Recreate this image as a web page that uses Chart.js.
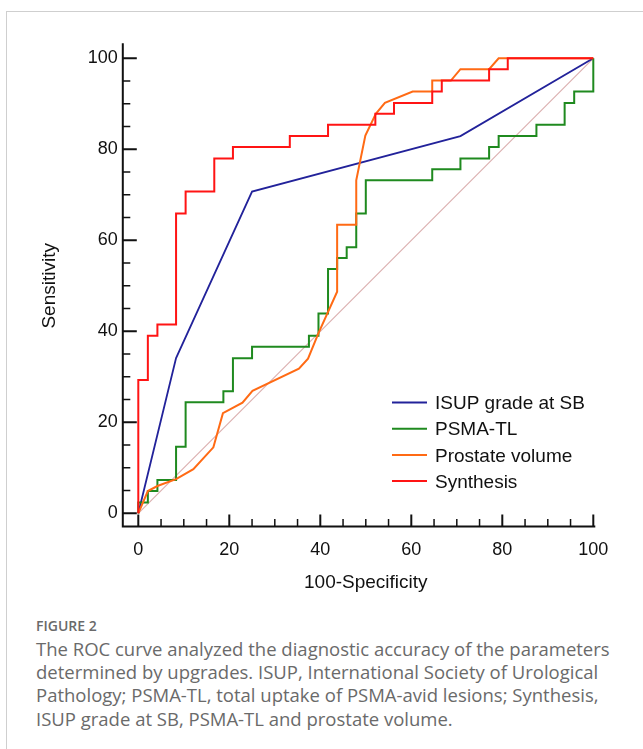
<!DOCTYPE html>
<html>
<head>
<meta charset="utf-8">
<script src="https://cdn.jsdelivr.net/npm/chart.js@4/dist/chart.umd.min.js"></script>
<style>
  html, body { margin: 0; padding: 0; background: #fff; }
  body { width: 643px; height: 749px; position: relative; overflow: hidden; }
  .frame { position: absolute; left: 6px; top: 11px; width: 700px; height: 800px; border: 1px solid #cfcfcf; }
  #chart { position: absolute; left: 0; top: 0; }
  .caption { position: absolute; left: 36px; top: 616.6px; width: 607px; font-family: "Open Sans", sans-serif; color: #6a6a6a; white-space: nowrap; }
  .caption .fig { font-size: 14px; line-height: 18px; font-weight: 600; }
  .caption p { margin: 2.2px 0 0 0; font-size: 18.5px; line-height: 23.3px; }
</style>
</head>
<body>
<div class="frame"></div>
<canvas id="chart" width="643" height="600"></canvas>
<div class="caption">
  <div class="fig">FIGURE 2</div>
  <p>The ROC curve analyzed the diagnostic accuracy of the parameters<br>determined by upgrades. ISUP, International Society of Urological<br>Pathology; PSMA-TL, total uptake of PSMA-avid lesions; Synthesis,<br>ISUP grade at SB, PSMA-TL and prostate volume.</p>
</div>
<script>
// valeurs (100-Spécificité / Sensibilité)
const tickValues = [0, 5, 10, 15, 20, 25, 30, 35, 40, 45, 50, 55, 60, 65, 70, 75, 80, 85, 90, 95, 100];
const labeledTicks = [0, 20, 40, 60, 80, 100];

const diagX = [0, 100];
const diagY = [0, 100];

const isupX = [0, 8.3, 25.0, 70.8, 100];
const isupY = [0, 34.1, 70.7, 82.9, 100];

const psmaX = [0, 0, 2.1, 2.1, 4.2, 4.2, 8.3, 8.3, 10.4, 10.4, 18.7, 18.7, 20.8, 20.8, 25.0, 25.0, 37.5, 37.5, 39.6, 39.6, 41.7, 41.7, 43.7, 43.7, 45.8, 45.8, 47.9, 47.9, 50.0, 50.0, 64.6, 64.6, 70.8, 70.8, 77.1, 77.1, 79.2, 79.2, 87.5, 87.5, 93.7, 93.7, 95.8, 95.8, 100, 100];
const psmaY = [0, 2.4, 2.4, 4.9, 4.9, 7.3, 7.3, 14.6, 14.6, 24.4, 24.4, 26.8, 26.8, 34.1, 34.1, 36.6, 36.6, 39.0, 39.0, 43.9, 43.9, 53.7, 53.7, 56.1, 56.1, 58.5, 58.5, 65.9, 65.9, 73.2, 73.2, 75.6, 75.6, 78.0, 78.0, 80.5, 80.5, 82.9, 82.9, 85.4, 85.4, 90.2, 90.2, 92.7, 92.7, 100];

const volX = [0, 2.1, 4.2, 8.3, 12.1, 16.5, 18.6, 22.9, 25.1, 35.3, 37.3, 39.6, 43.7, 43.7, 47.9, 47.9, 49.9, 52.2, 54.2, 60.3, 64.6, 64.6, 68.7, 70.8, 77.1, 79.2, 100];
const volY = [0, 4.9, 6.0, 7.5, 9.7, 14.5, 22.0, 24.3, 26.9, 31.8, 34.0, 39.6, 48.7, 63.4, 63.4, 73.2, 83.0, 87.8, 90.2, 92.7, 92.7, 95.1, 95.1, 97.6, 97.6, 100, 100];

const synX = [0, 0, 2.1, 2.1, 4.2, 4.2, 8.3, 8.3, 10.4, 10.4, 16.7, 16.7, 20.8, 20.8, 33.3, 33.3, 41.7, 41.7, 52.1, 52.1, 56.2, 56.2, 64.6, 64.6, 66.7, 66.7, 77.1, 77.1, 81.2, 81.2, 100];
const synY = [0, 29.3, 29.3, 39.0, 39.0, 41.5, 41.5, 65.9, 65.9, 70.7, 70.7, 78.0, 78.0, 80.5, 80.5, 82.9, 82.9, 85.4, 85.4, 87.8, 87.8, 90.2, 90.2, 92.7, 92.7, 95.1, 95.1, 97.6, 97.6, 100, 100];

const seriesNames = ['ISUP grade at SB', 'PSMA-TL', 'Prostate volume', 'Synthesis'];
const seriesColors = ['#22229a', '#1f8a1f', '#ff6a14', '#ff1414'];

const FONT = '"Liberation Sans", Arial, sans-serif';
const pts = (xs, ys) => xs.map((x, i) => ({ x: x, y: ys[i] }));

const curve = (label, data, color, width, order) => ({
    label: label,
    data: data,
    borderColor: color,
    borderWidth: width,
    showLine: true,
    pointRadius: 0,
    tension: 0,
    fill: false,
    clip: false,
    borderJoinStyle: 'miter',
    order: order
});

// axes décalés façon MedCalc + légende dans la zone du graphique
const axesPlugin = {
    id: 'axesMedcalc',
    beforeDatasetsDraw(chart) {
        const { ctx, scales: { x, y } } = chart;
        const x0 = x.getPixelForValue(0), x100 = x.getPixelForValue(100);
        const y0 = y.getPixelForValue(0), y100 = y.getPixelForValue(100);
        const axisX = x0 - 15.5, axisY = y0 + 13.3;
        ctx.save();
        ctx.strokeStyle = '#111';
        ctx.lineWidth = 2;
        ctx.beginPath();
        ctx.moveTo(axisX, y100 - 15);
        ctx.lineTo(axisX, axisY + 1);
        ctx.moveTo(axisX - 1, axisY);
        ctx.lineTo(x100 + 2, axisY);
        ctx.stroke();
        tickValues.forEach(v => {
            const major = labeledTicks.includes(v);
            const px = x.getPixelForValue(v), py = y.getPixelForValue(v);
            ctx.lineWidth = major ? 2 : 1.5;
            ctx.beginPath();
            ctx.moveTo(axisX, py);
            ctx.lineTo(axisX + (major ? 14 : 7.5), py);
            ctx.moveTo(px, axisY);
            ctx.lineTo(px, axisY - (major ? 12 : 7.5));
            ctx.stroke();
        });
        ctx.restore();
    },
    afterDraw(chart) {
        const ctx = chart.ctx;
        ctx.save();
        ctx.font = '19px ' + FONT;
        ctx.textBaseline = 'middle';
        ctx.fillStyle = '#111';
        seriesNames.forEach((name, i) => {
            const ry = 402.5 + i * 26.2;
            ctx.strokeStyle = seriesColors[i];
            ctx.lineWidth = 2;
            ctx.beginPath();
            ctx.moveTo(392, ry);
            ctx.lineTo(427, ry);
            ctx.stroke();
            ctx.fillText(name, 435, ry + 1.5);
        });
        ctx.restore();
    }
};

new Chart(document.getElementById('chart'), {
    type: 'scatter',
    data: {
        datasets: [
            curve('Reference', pts(diagX, diagY), '#dcb1b1', 1.2, 5),
            curve(seriesNames[0], pts(isupX, isupY), seriesColors[0], 1.8, 3),
            curve(seriesNames[1], pts(psmaX, psmaY), seriesColors[1], 2, 2),
            curve(seriesNames[2], pts(volX, volY), seriesColors[2], 2, 1),
            curve(seriesNames[3], pts(synX, synY), seriesColors[3], 2, 0)
        ]
    },
    options: {
        responsive: false,
        animation: false,
        devicePixelRatio: 1,
        layout: { padding: { left: 38, top: 58.3, right: 49.7, bottom: 3.7 } },
        plugins: { legend: { display: false }, tooltip: { enabled: false } },
        scales: {
            x: {
                type: 'linear',
                min: 0,
                max: 100,
                afterBuildTicks: s => { s.ticks = tickValues.map(v => ({ value: v })); },
                afterFit: s => { s.height = 83; },
                grid: { display: false, drawTicks: false, tickLength: 0 },
                border: { display: false },
                ticks: {
                    autoSkip: false,
                    maxRotation: 0,
                    padding: 26,
                    color: '#111',
                    font: { family: FONT, size: 18 },
                    callback: v => labeledTicks.includes(v) ? String(v) : ''
                },
                title: {
                    display: true,
                    text: '100-Specificity',
                    color: '#111',
                    font: { family: FONT, size: 19 },
                    padding: { top: 0, bottom: 2 }
                }
            },
            y: {
                type: 'linear',
                min: 0,
                max: 100,
                afterBuildTicks: s => { s.ticks = tickValues.map(v => ({ value: v })); },
                afterFit: s => { s.width = 100.3; },
                grid: { display: false, drawTicks: false, tickLength: 0 },
                border: { display: false },
                ticks: {
                    autoSkip: false,
                    padding: 20.6,
                    color: '#111',
                    font: { family: FONT, size: 18 },
                    callback: v => labeledTicks.includes(v) ? String(v) : ''
                },
                title: {
                    display: true,
                    text: 'Sensitivity',
                    color: '#111',
                    font: { family: FONT, size: 19 },
                    padding: { top: 0, bottom: 0 }
                }
            }
        }
    },
    plugins: [axesPlugin]
});
</script>
</body>
</html>
